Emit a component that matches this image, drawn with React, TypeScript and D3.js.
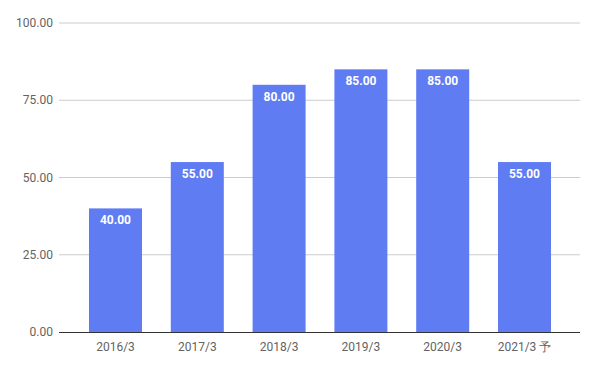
import React from "react";
import * as d3 from "d3";

const categories = ["2016/3", "2017/3", "2018/3", "2019/3", "2020/3", "2021/3 予"];
const values = [40, 55, 80, 85, 85, 55];
const yTicks = [0, 25, 50, 75, 100];

export default function App() {
  const W = 596, H = 369;
  const x = d3.scaleBand<string>().domain(categories).range([74.6, 565.4]).paddingInner(0.352).paddingOuter(0.176);
  const y = d3.scaleLinear().domain([0, 100]).range([332, 23]);
  const font = "Roboto, Arial, sans-serif";
  return (
    <svg width={W} height={H} style={{ position: "absolute", left: 0, top: 0 }} fontFamily={font}>
      <rect width={W} height={H} fill="#fff" />
      {yTicks.map((t) => (
        <g key={t}>
          {t !== 0 && <line x1={59} x2={580} y1={y(t)} y2={y(t)} stroke="#cccccc" strokeWidth={1} />}
          <text x={53} y={y(t)} dy="0.35em" textAnchor="end" fontSize={12} fill="#636363">
            {t.toFixed(2)}
          </text>
        </g>
      ))}
      {categories.map((c, i) => (
        <g key={c}>
          <rect x={x(c)} y={y(values[i])} width={x.bandwidth()} height={y(0) - y(values[i])} fill="#5f7cf3" />
          <text x={x(c)! + x.bandwidth() / 2} y={y(values[i]) + 16} textAnchor="middle" fontSize={12} fontWeight="bold" fill="#fff">
            {values[i].toFixed(2)}
          </text>
          <text x={x(c)! + x.bandwidth() / 2} y={351} textAnchor="middle" fontSize={12} fill="#636363">
            {c}
          </text>
        </g>
      ))}
      <line x1={59} x2={580} y1={y(0) + 0.5} y2={y(0) + 0.5} stroke="#333" strokeWidth={1} />
    </svg>
  );
}
